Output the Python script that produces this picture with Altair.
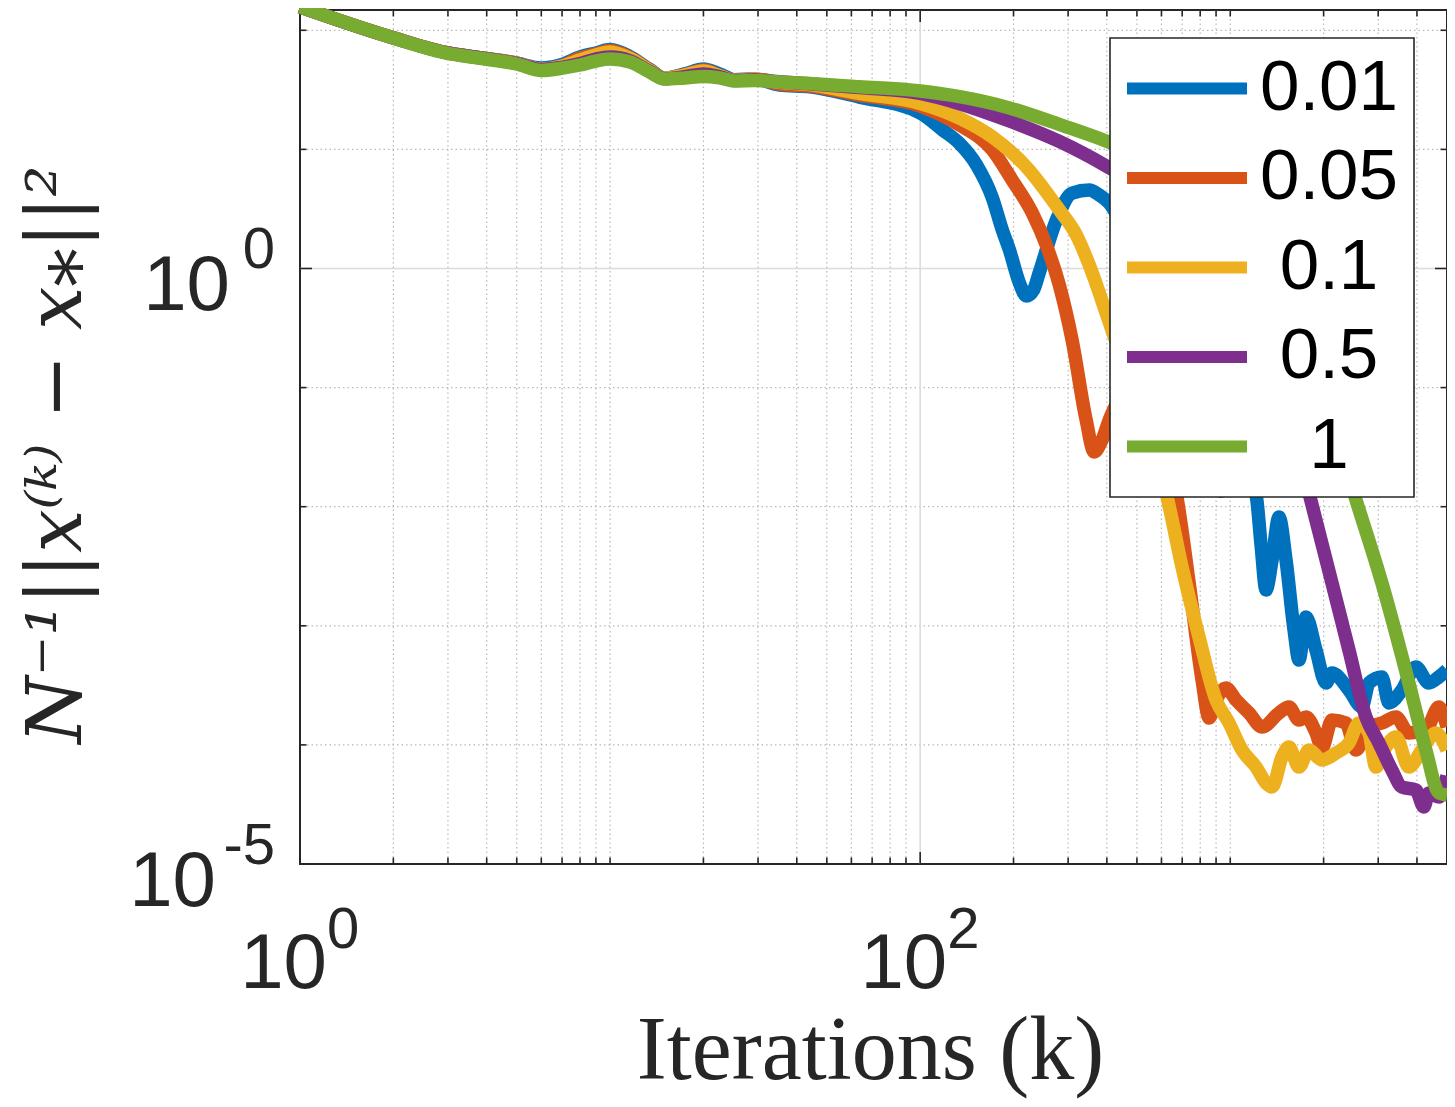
import altair as alt
import pandas as pd

W, H = 1147, 854

series_names = ["0.01", "0.05", "0.1", "0.5", "1"]
series_colors = ["#0072BD", "#D95319", "#EDB120", "#7E2F8E", "#77AC30"]

# ---- series (iteration k, error value) ----
k_001 = [1, 2, 3, 3.8, 5, 6, 6.9, 8, 9, 10, 11.6, 13.4, 15, 17.4, 20, 22.5, 25.2, 29.2, 35.2, 44,
         63.7, 100, 118, 134, 152, 171, 184, 194, 209, 220, 232, 242, 275, 309, 351, 378, 407, 472,
         590, 737, 855, 934, 1006, 1099, 1211, 1257, 1304, 1364, 1436, 1513, 1606, 1666, 1755, 1890,
         2035, 2128, 2414, 2658, 2800, 3083, 3248, 3577, 3968, 4370, 4707, 5000]
err_001 = [157, 86.5, 64.5, 59.0, 53.0, 48.3, 51.1, 59.7, 64.5, 69.0, 60.0, 47.0, 39.5, 43.0, 47.3,
           43.0, 38.5, 39.0, 34.7, 33.5, 27.5, 20.2, 14.6, 11.2, 7.40, 3.91, 2.11, 1.43, 0.755, 0.588,
           0.660, 0.917, 2.55, 4.30, 4.56, 4.14, 3.55, 1.735, 0.3694, 0.0535, 0.0174, 0.0135, 0.0161,
           0.0203, 0.01254, 0.00477, 0.0020, 0.00357, 0.0082, 0.00357, 9.22e-4, 5.16e-4, 0.001186,
           6.26e-4, 3.31e-4, 4.01e-4, 2.89e-4, 2.08e-4, 3.31e-4, 3.72e-4, 2.25e-4, 2.89e-4, 4.51e-4,
           3.31e-4, 3.72e-4, 4.25e-4]

k_005 = [1, 2, 3, 3.8, 5, 6, 6.9, 8, 9, 10, 11.6, 13.4, 15, 17.4, 20, 22.5, 25.2, 29.2, 35.2, 44,
         63.7, 100, 134, 171, 198, 230, 255, 281, 309, 343, 364, 386, 407, 455, 508, 568, 621, 669,
         737, 811, 855, 900, 969, 1044, 1150, 1266, 1436, 1546, 1666, 1755, 1890, 1976, 2128, 2361,
         2543, 2800, 3083, 3420, 3767, 4274, 4707, 5000]
err_005 = [157, 86.5, 64.5, 59.0, 53.0, 47.0, 49.8, 58.5, 63.2, 67.7, 59.0, 46.5, 39.5, 42.5, 46.4,
           42.0, 38.0, 39.0, 35.4, 34.0, 28.6, 23.1, 16.0, 9.88, 5.53, 2.92, 1.575, 0.727, 0.251,
           0.0535, 0.0288, 0.0363, 0.0535, 0.0867, 0.0918, 0.0535, 0.0272, 0.0130, 0.00229, 3.51e-4,
           1.682e-4, 2.38e-4, 3.00e-4, 2.38e-4, 1.853e-4, 1.414e-4, 1.853e-4, 2.08e-4, 1.618e-4,
           1.715e-4, 1.259e-4, 9.42e-5, 1.618e-4, 1.527e-4, 9.06e-5, 1.414e-4, 1.527e-4, 1.715e-4,
           1.259e-4, 1.334e-4, 2.08e-4, 1.414e-4]

k_01 = [1, 2, 3, 3.8, 5, 6, 6.9, 8, 9, 10, 11.6, 13.4, 15, 17.4, 20, 22.5, 25.2, 29.2, 35.2, 44,
        63.7, 100, 134, 171, 220, 281, 319, 351, 407, 472, 547, 621, 699, 793, 900, 991, 1091, 1211,
        1304, 1364, 1469, 1546, 1666, 1795, 1976, 2193, 2414, 2600, 2800, 2949, 3177, 3420, 3767,
        4149, 4603, 5000]
err_01 = [157, 86.5, 64.5, 59.0, 53.0, 47.0, 49.5, 56.3, 62.0, 65.8, 58.0, 46.0, 39.5, 42.0, 45.5,
          41.5, 38.0, 39.0, 36.5, 35.0, 29.5, 24.3, 18.3, 12.7, 7.12, 3.10, 1.91, 1.07, 0.3555,
          0.1158, 0.0363, 0.0130, 0.00312, 8.05e-4, 2.38e-4, 1.527e-4, 9.06e-5, 6.52e-5, 4.79e-5,
          4.43e-5, 7.91e-5, 9.60e-5, 6.52e-5, 9.06e-5, 7.47e-5, 8.55e-5, 1.037e-4, 1.527e-4,
          1.259e-4, 6.52e-5, 9.60e-5, 1.165e-4, 6.52e-5, 9.06e-5, 1.259e-4, 9.06e-5]

k_05 = [1, 2, 3, 3.8, 5, 6, 6.9, 8, 9, 10, 11.6, 13.4, 15, 17.4, 20, 22.5, 25.2, 29.2, 35.2, 44,
        63.7, 100, 134, 194, 281, 401, 547, 793, 1150, 1436, 1795, 2128, 2414, 2738, 3016, 3320,
        3577, 3968, 4210, 4370, 4707, 5000]
err_05 = [157, 86.1, 64.5, 58.8, 52.8, 46.8, 48.6, 52.5, 57.4, 59.7, 55.5, 45.2, 39.2, 40.8, 43.0,
          40.8, 37.8, 38.5, 37.0, 35.5, 33.0, 29.5, 24.2, 17.3, 11.65, 7.18, 4.39, 1.91, 0.494,
          0.1276, 0.0130, 0.00229, 6.26e-4, 1.715e-4, 1.037e-4, 6.16e-5, 4.43e-5, 4.18e-5, 3.01e-5,
          3.95e-5, 3.65e-5, 5.5e-5]

k_1 = [1, 2, 3, 3.8, 5, 6, 6.9, 8, 9, 10, 11.6, 13.4, 15, 17.4, 20, 22.5, 25.2, 29.2, 35.2, 44,
       63.7, 100, 134, 194, 281, 401, 590, 855, 1238, 1666, 2081, 2505, 3083, 3767, 4274, 4707, 5000]
err_1 = [157, 86.1, 63.9, 58.2, 52.1, 46.0, 47.8, 51.1, 55.2, 57.4, 54.2, 44.7, 39.0, 39.8, 40.9,
         39.8, 37.5, 37.9, 36.8, 35.8, 33.6, 30.9, 27.7, 22.3, 16.2, 11.65, 7.40, 3.76, 1.30, 0.305,
         0.0648, 0.0130, 0.00229, 3.31e-4, 9.06e-5, 3.95e-5, 3.8e-5]

# ---- axis ticks / grid / labels ----
x_minor_ticks = [2, 3, 4, 5, 6, 7, 8, 9, 10, 20, 30, 40, 50, 60, 70, 80, 90,
                 200, 300, 400, 500, 600, 700, 800, 900, 1000, 2000, 3000, 4000]
x_major_ticks = [1, 100]
x_major_grid = [100]
y_minor_ticks = [1e-4, 1e-3, 1e-2, 1e-1, 10, 100]
y_major_ticks = [1e-5, 1]
y_major_grid = [1]

x_label_vals = [1, 100]
x_label_exps = ["0", "2"]
y_label_vals = [1, 1e-5]
y_label_exps = ["0", "-5"]
label_base = "10"

frames = []
for name, ks, vs in zip(series_names, [k_001, k_005, k_01, k_05, k_1],
                        [err_001, err_005, err_01, err_05, err_1]):
    frames.append(pd.DataFrame({"k": ks, "v": vs, "lr": name}))
df = pd.concat(frames, ignore_index=True)

AX = "#262626"
xs = alt.Scale(type="log", domain=[1, 5000], nice=False)
ys = alt.Scale(type="log", domain=[1e-5, 148], nice=False)

xaxis = alt.Axis(
    title="Iterations (k)", labels=False, ticks=False, domain=False, grid=False,
    titleFont="Liberation Serif", titleFontSize=90, titleFontWeight="normal",
    titleColor=AX, titleX=570, titleY=214, titleBaseline="alphabetic", titleAlign="center")
yaxis = alt.Axis(
    title="N\u207b\u00b9||x\u207d\u1d4f\u207e \u2212 x\u204e||\u00b2",
    labels=False, ticks=False, domain=False, grid=False,
    titleFont="DejaVu Serif", titleFontSize=77, titleFontWeight="normal",
    titleFontStyle="italic",
    titleColor=AX, titleX=-220, titleY=444, titleAngle=270,
    titleBaseline="alphabetic", titleAlign="center")


def xenc():
    return alt.X("k:Q", scale=xs, axis=xaxis)


def yenc():
    return alt.Y("v:Q", scale=ys, axis=yaxis)


MINOR_GRID = dict(color="#b8b8b8", strokeWidth=1.2, strokeDash=[1.5, 3])
MAJOR_GRID = dict(color="#dcdcdc", strokeWidth=1.6)

layers = []
layers.append(alt.Chart(pd.DataFrame({"k": x_minor_ticks})).mark_rule(**MINOR_GRID).encode(x=xenc()))
layers.append(alt.Chart(pd.DataFrame({"v": y_minor_ticks})).mark_rule(**MINOR_GRID).encode(y=yenc()))
layers.append(alt.Chart(pd.DataFrame({"k": x_major_grid})).mark_rule(**MAJOR_GRID).encode(x=xenc()))
layers.append(alt.Chart(pd.DataFrame({"v": y_major_grid})).mark_rule(**MAJOR_GRID).encode(y=yenc()))

# inward tick marks on all four sides
for vals, L in [(x_minor_ticks, 6.5), (x_major_ticks, 12)]:
    d = pd.DataFrame({"k": vals})
    layers.append(alt.Chart(d).mark_rule(color=AX, strokeWidth=1.6).encode(
        x=xenc(), y=alt.value(H - L), y2=alt.value(H)))
    layers.append(alt.Chart(d).mark_rule(color=AX, strokeWidth=1.6).encode(
        x=xenc(), y=alt.value(0), y2=alt.value(L)))
for vals, L in [(y_minor_ticks, 6.5), (y_major_ticks, 12)]:
    d = pd.DataFrame({"v": vals})
    layers.append(alt.Chart(d).mark_rule(color=AX, strokeWidth=1.6).encode(
        y=yenc(), x=alt.value(0), x2=alt.value(L)))
    layers.append(alt.Chart(d).mark_rule(color=AX, strokeWidth=1.6).encode(
        y=yenc(), x=alt.value(W - L), x2=alt.value(W)))

lines = alt.Chart(df).mark_line(strokeWidth=13.5, interpolate="monotone", strokeJoin="round").encode(
    x=xenc(),
    y=yenc(),
    color=alt.Color("lr:N", scale=alt.Scale(domain=series_names, range=series_colors),
                    legend=alt.Legend(
                        title=None, orient="none", legendX=810, legendY=28,
                        symbolType="stroke", symbolSize=14400, symbolStrokeWidth=12,
                        symbolOffset=-4, clipHeight=71,
                        labelFont="Liberation Sans", labelFontSize=71, labelColor="black",
                        labelAlign="center", labelOffset=76, labelLimit=400,
                        fillColor="white", strokeColor=AX, padding=15, rowPadding=17.5,
                        symbolOpacity=1)),
)
layers.append(lines)

# tick labels 10^n
xl = pd.DataFrame({"k": x_label_vals, "exp": x_label_exps, "base": label_base})
layers.append(alt.Chart(xl).mark_text(align="right", baseline="alphabetic", dx=27, dy=124,
                                      font="Liberation Sans", fontSize=78, color=AX).encode(
    x=xenc(), y=alt.value(H), text="base:N"))
layers.append(alt.Chart(xl).mark_text(align="left", baseline="alphabetic", dx=27, dy=84,
                                      font="Liberation Sans", fontSize=58, color=AX).encode(
    x=xenc(), y=alt.value(H), text="exp:N"))

for val, ex, bdx in zip(y_label_vals, y_label_exps, [-70, -84]):
    d = pd.DataFrame({"v": [val], "exp": [ex], "base": [label_base]})
    layers.append(alt.Chart(d).mark_text(align="right", baseline="alphabetic", dx=bdx, dy=41.5,
                                         font="Liberation Sans", fontSize=78, color=AX).encode(
        y=yenc(), x=alt.value(0), text="base:N"))
    layers.append(alt.Chart(d).mark_text(align="right", baseline="alphabetic", dx=-25, dy=0,
                                         font="Liberation Sans", fontSize=58, color=AX).encode(
        y=yenc(), x=alt.value(0), text="exp:N"))

chart = alt.layer(*layers).properties(
    width=W, height=H,
    padding={"left": 292, "top": 2, "right": 0, "bottom": 235},
    autosize=alt.AutoSizeParams(type="none"),
    background="white",
).configure_view(stroke=AX, strokeWidth=2).configure_legend(strokeWidth=1.6)

chart.save("out.html", embed_options={"renderer": "svg", "actions": False})
